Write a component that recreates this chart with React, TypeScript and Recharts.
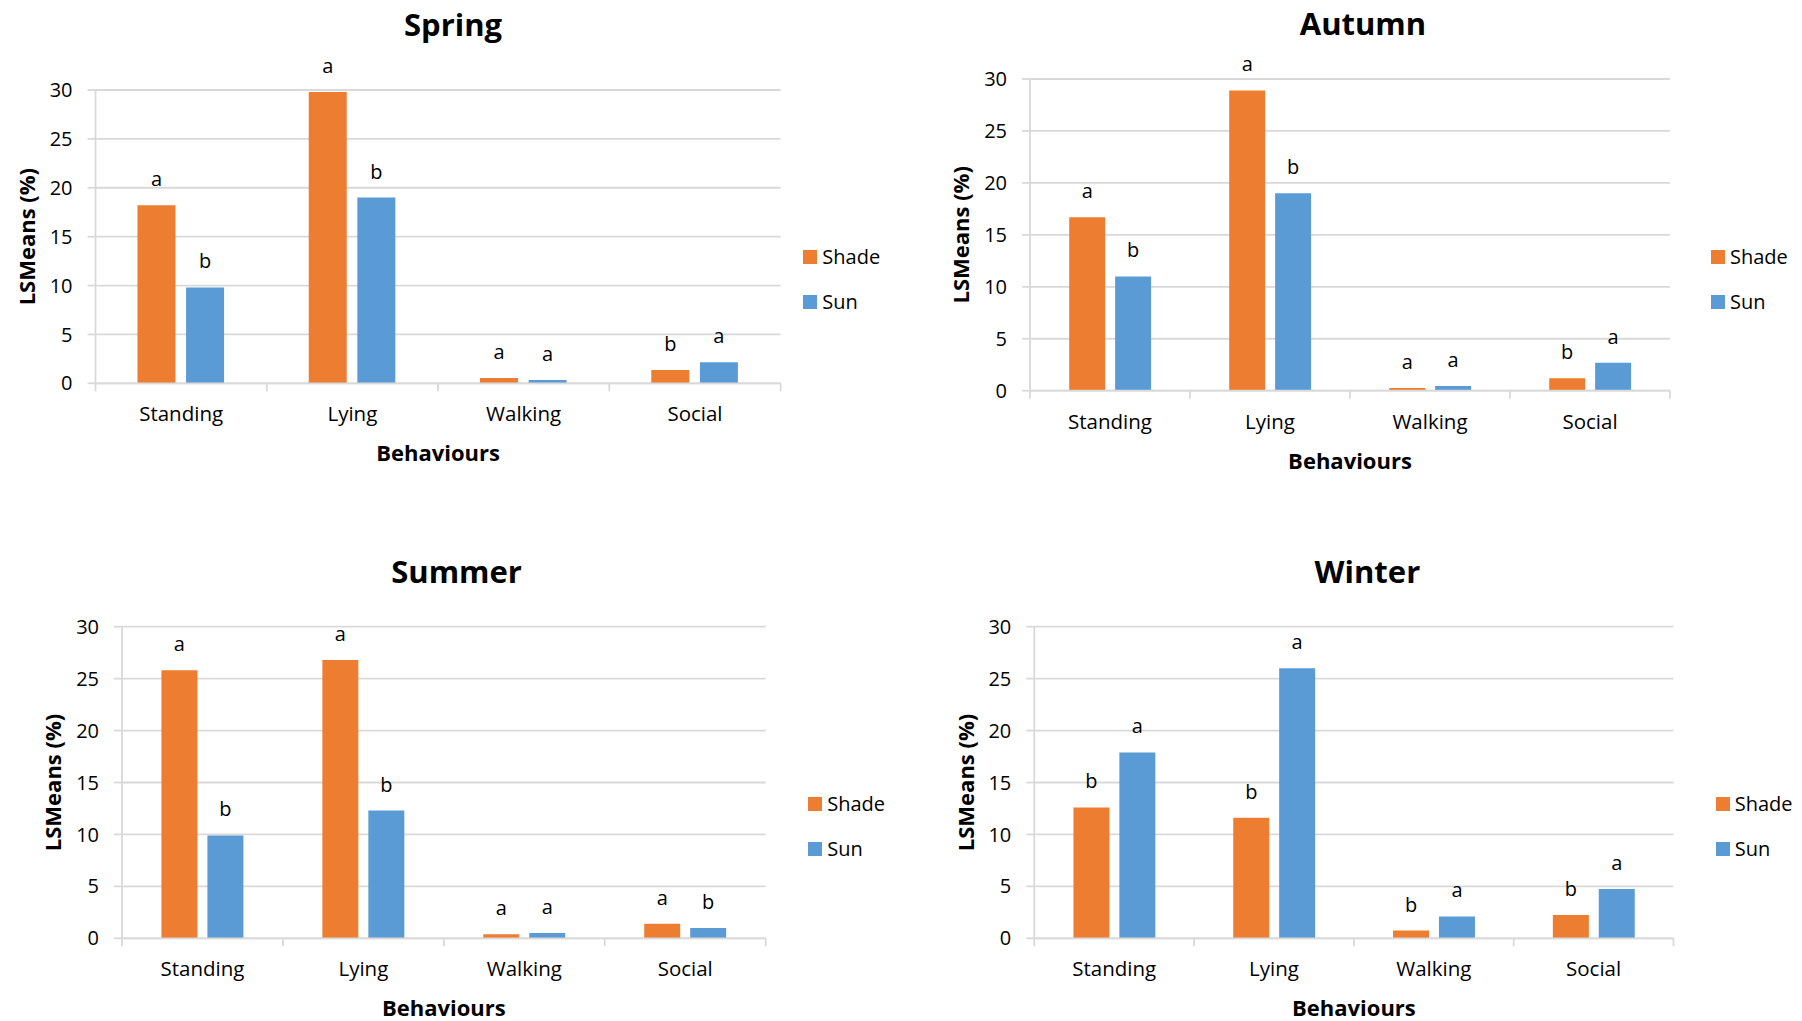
import React from 'react';
import { BarChart, Bar, XAxis, YAxis, CartesianGrid, Legend, LabelList } from 'recharts';

// Behaviour categories and y-axis ticks shared by all four seasons
const behaviours = ['Standing', 'Lying', 'Walking', 'Social'];
const yTicks = [0, 5, 10, 15, 20, 25, 30];

// LSMeans (%) per behaviour, shade vs sun, with significance letters
const springShade = [18.2, 29.8, 0.55, 1.35];
const springSun = [9.8, 19.0, 0.35, 2.15];
const springShadeLetters = ['a', 'a', 'a', 'b'];
const springSunLetters = ['b', 'b', 'a', 'a'];

const autumnShade = [16.7, 28.9, 0.25, 1.2];
const autumnSun = [11.0, 19.0, 0.45, 2.7];
const autumnShadeLetters = ['a', 'a', 'a', 'b'];
const autumnSunLetters = ['b', 'b', 'a', 'a'];

const summerShade = [25.8, 26.8, 0.4, 1.4];
const summerSun = [9.9, 12.3, 0.5, 1.0];
const summerShadeLetters = ['a', 'a', 'a', 'a'];
const summerSunLetters = ['b', 'b', 'a', 'b'];

const winterShade = [12.6, 11.6, 0.75, 2.25];
const winterSun = [17.9, 26.0, 2.1, 4.75];
const winterShadeLetters = ['b', 'b', 'b', 'b'];
const winterSunLetters = ['a', 'a', 'a', 'a'];

const SHADE = '#ED7D31';
const SUN = '#5B9BD5';
const GRID = '#D9D9D9';
const FONT = '"Open Sans", sans-serif';

const Y_AXIS_W = 60;
const X_AXIS_H = 30;

type Box = { left: number; top: number; width: number; height: number };
type Plot = { left: number; top: number; right: number; bottom: number };

type PanelCfg = {
  title: string;
  titleX: number;
  titleY: number;
  box: Box;
  plot: Plot;
  legendX: number;
  legendY: number;
  shade: number[];
  sun: number[];
  shadeLetters: string[];
  sunLetters: string[];
};

const panels: PanelCfg[] = [
  {
    title: 'Spring', titleX: 453, titleY: 36,
    box: { left: 0, top: 0, width: 900, height: 510 },
    plot: { left: 95.5, top: 90, right: 780.6, bottom: 383.3 },
    legendX: 803.3, legendY: 250,
    shade: springShade, sun: springSun,
    shadeLetters: springShadeLetters, sunLetters: springSunLetters,
  },
  {
    title: 'Autumn', titleX: 1363, titleY: 35,
    box: { left: 900, top: 0, width: 902, height: 510 },
    plot: { left: 1030, top: 79, right: 1670, bottom: 390.7 },
    legendX: 1711, legendY: 250,
    shade: autumnShade, sun: autumnSun,
    shadeLetters: autumnShadeLetters, sunLetters: autumnSunLetters,
  },
  {
    title: 'Summer', titleX: 456.6, titleY: 582.5,
    box: { left: 0, top: 510, width: 900, height: 511 },
    plot: { left: 122, top: 626.7, right: 765.7, bottom: 938.3 },
    legendX: 808.2, legendY: 797.3,
    shade: summerShade, sun: summerSun,
    shadeLetters: summerShadeLetters, sunLetters: summerSunLetters,
  },
  {
    title: 'Winter', titleX: 1367.4, titleY: 582.5,
    box: { left: 900, top: 510, width: 902, height: 511 },
    plot: { left: 1034.3, top: 626.7, right: 1673.5, bottom: 938.3 },
    legendX: 1715.7, legendY: 797.3,
    shade: winterShade, sun: winterSun,
    shadeLetters: winterShadeLetters, sunLetters: winterSunLetters,
  },
];

const LetterLabel = (props: any) => {
  const { x, y, width, value } = props;
  return (
    <text
      x={Number(x) + Number(width) / 2}
      y={Number(y) - 19}
      textAnchor="middle"
      fill="#000"
      fontSize={20}
      fontFamily={FONT}
    >
      {value}
    </text>
  );
};

const LegendBox = (props: any) => {
  const items = props.payload || [];
  return (
    <div style={{ fontFamily: FONT }}>
      {items.map((it: any, i: number) => (
        <div
          key={it.value}
          style={{
            display: 'flex',
            alignItems: 'center',
            height: 14,
            marginBottom: i === items.length - 1 ? 0 : 31,
          }}
        >
          <div style={{ width: 14, height: 14, background: it.color }} />
          <span style={{ marginLeft: 5, fontSize: 20, lineHeight: '14px', color: '#000' }}>
            {it.value}
          </span>
        </div>
      ))}
    </div>
  );
};

function SeasonChart({ cfg }: { cfg: PanelCfg }) {
  const { box, plot } = cfg;
  const data = behaviours.map((b, i) => ({
    behaviour: b,
    Shade: cfg.shade[i],
    Sun: cfg.sun[i],
    shadeLetter: cfg.shadeLetters[i],
    sunLetter: cfg.sunLetters[i],
  }));
  const catW = (plot.right - plot.left) / behaviours.length;
  // plot bottom in the chart's own coordinates
  const baseY = plot.bottom - box.top;
  const margin = {
    left: plot.left - box.left - Y_AXIS_W,
    top: plot.top - box.top,
    right: box.left + box.width - plot.right,
    bottom: box.top + box.height - plot.bottom - X_AXIS_H,
  };

  const CategoryTick = (p: any) => {
    const cx = Number(p.x);
    const last = p.index === behaviours.length - 1;
    return (
      <g>
        <line x1={cx - catW / 2} x2={cx - catW / 2} y1={baseY} y2={baseY + 8} stroke={GRID} strokeWidth={1.8} />
        {last && (
          <line x1={cx + catW / 2} x2={cx + catW / 2} y1={baseY} y2={baseY + 8} stroke={GRID} strokeWidth={1.8} />
        )}
        <text x={cx} y={baseY + 38} textAnchor="middle" fill="#000" fontSize={20.5} fontFamily={FONT}>
          {p.payload.value}
        </text>
      </g>
    );
  };

  const yLabel = (p: any) => {
    const vb = p.viewBox || {};
    const cx = vb.x + vb.width - 69.6;
    const cy = vb.y + vb.height / 2;
    return (
      <text
        x={cx}
        y={cy}
        transform={`rotate(-90, ${cx}, ${cy})`}
        textAnchor="middle"
        dominantBaseline="central"
        fill="#000"
        fontSize={22}
        fontWeight={700}
        fontFamily={FONT}
      >
        LSMeans (%)
      </text>
    );
  };

  const xLabel = (p: any) => {
    const vb = p.viewBox || {};
    return (
      <text
        x={vb.x + vb.width / 2}
        y={baseY + 78}
        textAnchor="middle"
        fill="#000"
        fontSize={22}
        fontWeight={700}
        fontFamily={FONT}
      >
        Behaviours
      </text>
    );
  };

  return (
    <div style={{ position: 'absolute', left: box.left, top: box.top, width: box.width, height: box.height }}>
      <BarChart
        width={box.width}
        height={box.height}
        data={data}
        margin={margin}
        barCategoryGap="24.5%"
        barGap="6.2%"
      >
        <CartesianGrid vertical={false} stroke={GRID} strokeWidth={1.8} />
        <XAxis
          dataKey="behaviour"
          height={X_AXIS_H}
          axisLine={{ stroke: GRID, strokeWidth: 1.8 }}
          tickLine={false}
          tick={<CategoryTick />}
          interval={0}
          label={xLabel}
        />
        <YAxis
          type="number"
          domain={[0, 30]}
          ticks={yTicks}
          width={Y_AXIS_W}
          allowDataOverflow
          axisLine={{ stroke: GRID, strokeWidth: 1.8 }}
          tickLine={{ stroke: GRID, strokeWidth: 1.8 }}
          tickSize={8}
          tickMargin={15}
          tick={{ fill: '#000', fontSize: 20, fontFamily: FONT }}
          label={yLabel}
        />
        <Legend
          layout="vertical"
          align="center"
          verticalAlign="middle"
          content={<LegendBox />}
          wrapperStyle={{
            position: 'absolute',
            left: cfg.legendX - box.left,
            top: cfg.legendY - box.top,
            width: 'auto',
            height: 'auto',
          }}
        />
        <Bar dataKey="Shade" name="Shade" fill={SHADE} isAnimationActive={false}>
          <LabelList dataKey="shadeLetter" content={<LetterLabel />} />
        </Bar>
        <Bar dataKey="Sun" name="Sun" fill={SUN} isAnimationActive={false}>
          <LabelList dataKey="sunLetter" content={<LetterLabel />} />
        </Bar>
      </BarChart>
    </div>
  );
}

export default function App() {
  return (
    <div
      style={{
        position: 'absolute',
        left: 0,
        top: 0,
        width: 1802,
        height: 1021,
        background: '#fff',
        overflow: 'hidden',
      }}
    >
      {panels.map((p) => (
        <SeasonChart key={p.title} cfg={p} />
      ))}
      <svg
        width={1802}
        height={1021}
        style={{ position: 'absolute', left: 0, top: 0, pointerEvents: 'none' }}
      >
        {panels.map((p) => (
          <text
            key={p.title}
            x={p.titleX}
            y={p.titleY}
            textAnchor="middle"
            fill="#000"
            fontSize={31}
            fontWeight={700}
            fontFamily={FONT}
          >
            {p.title}
          </text>
        ))}
      </svg>
    </div>
  );
}
